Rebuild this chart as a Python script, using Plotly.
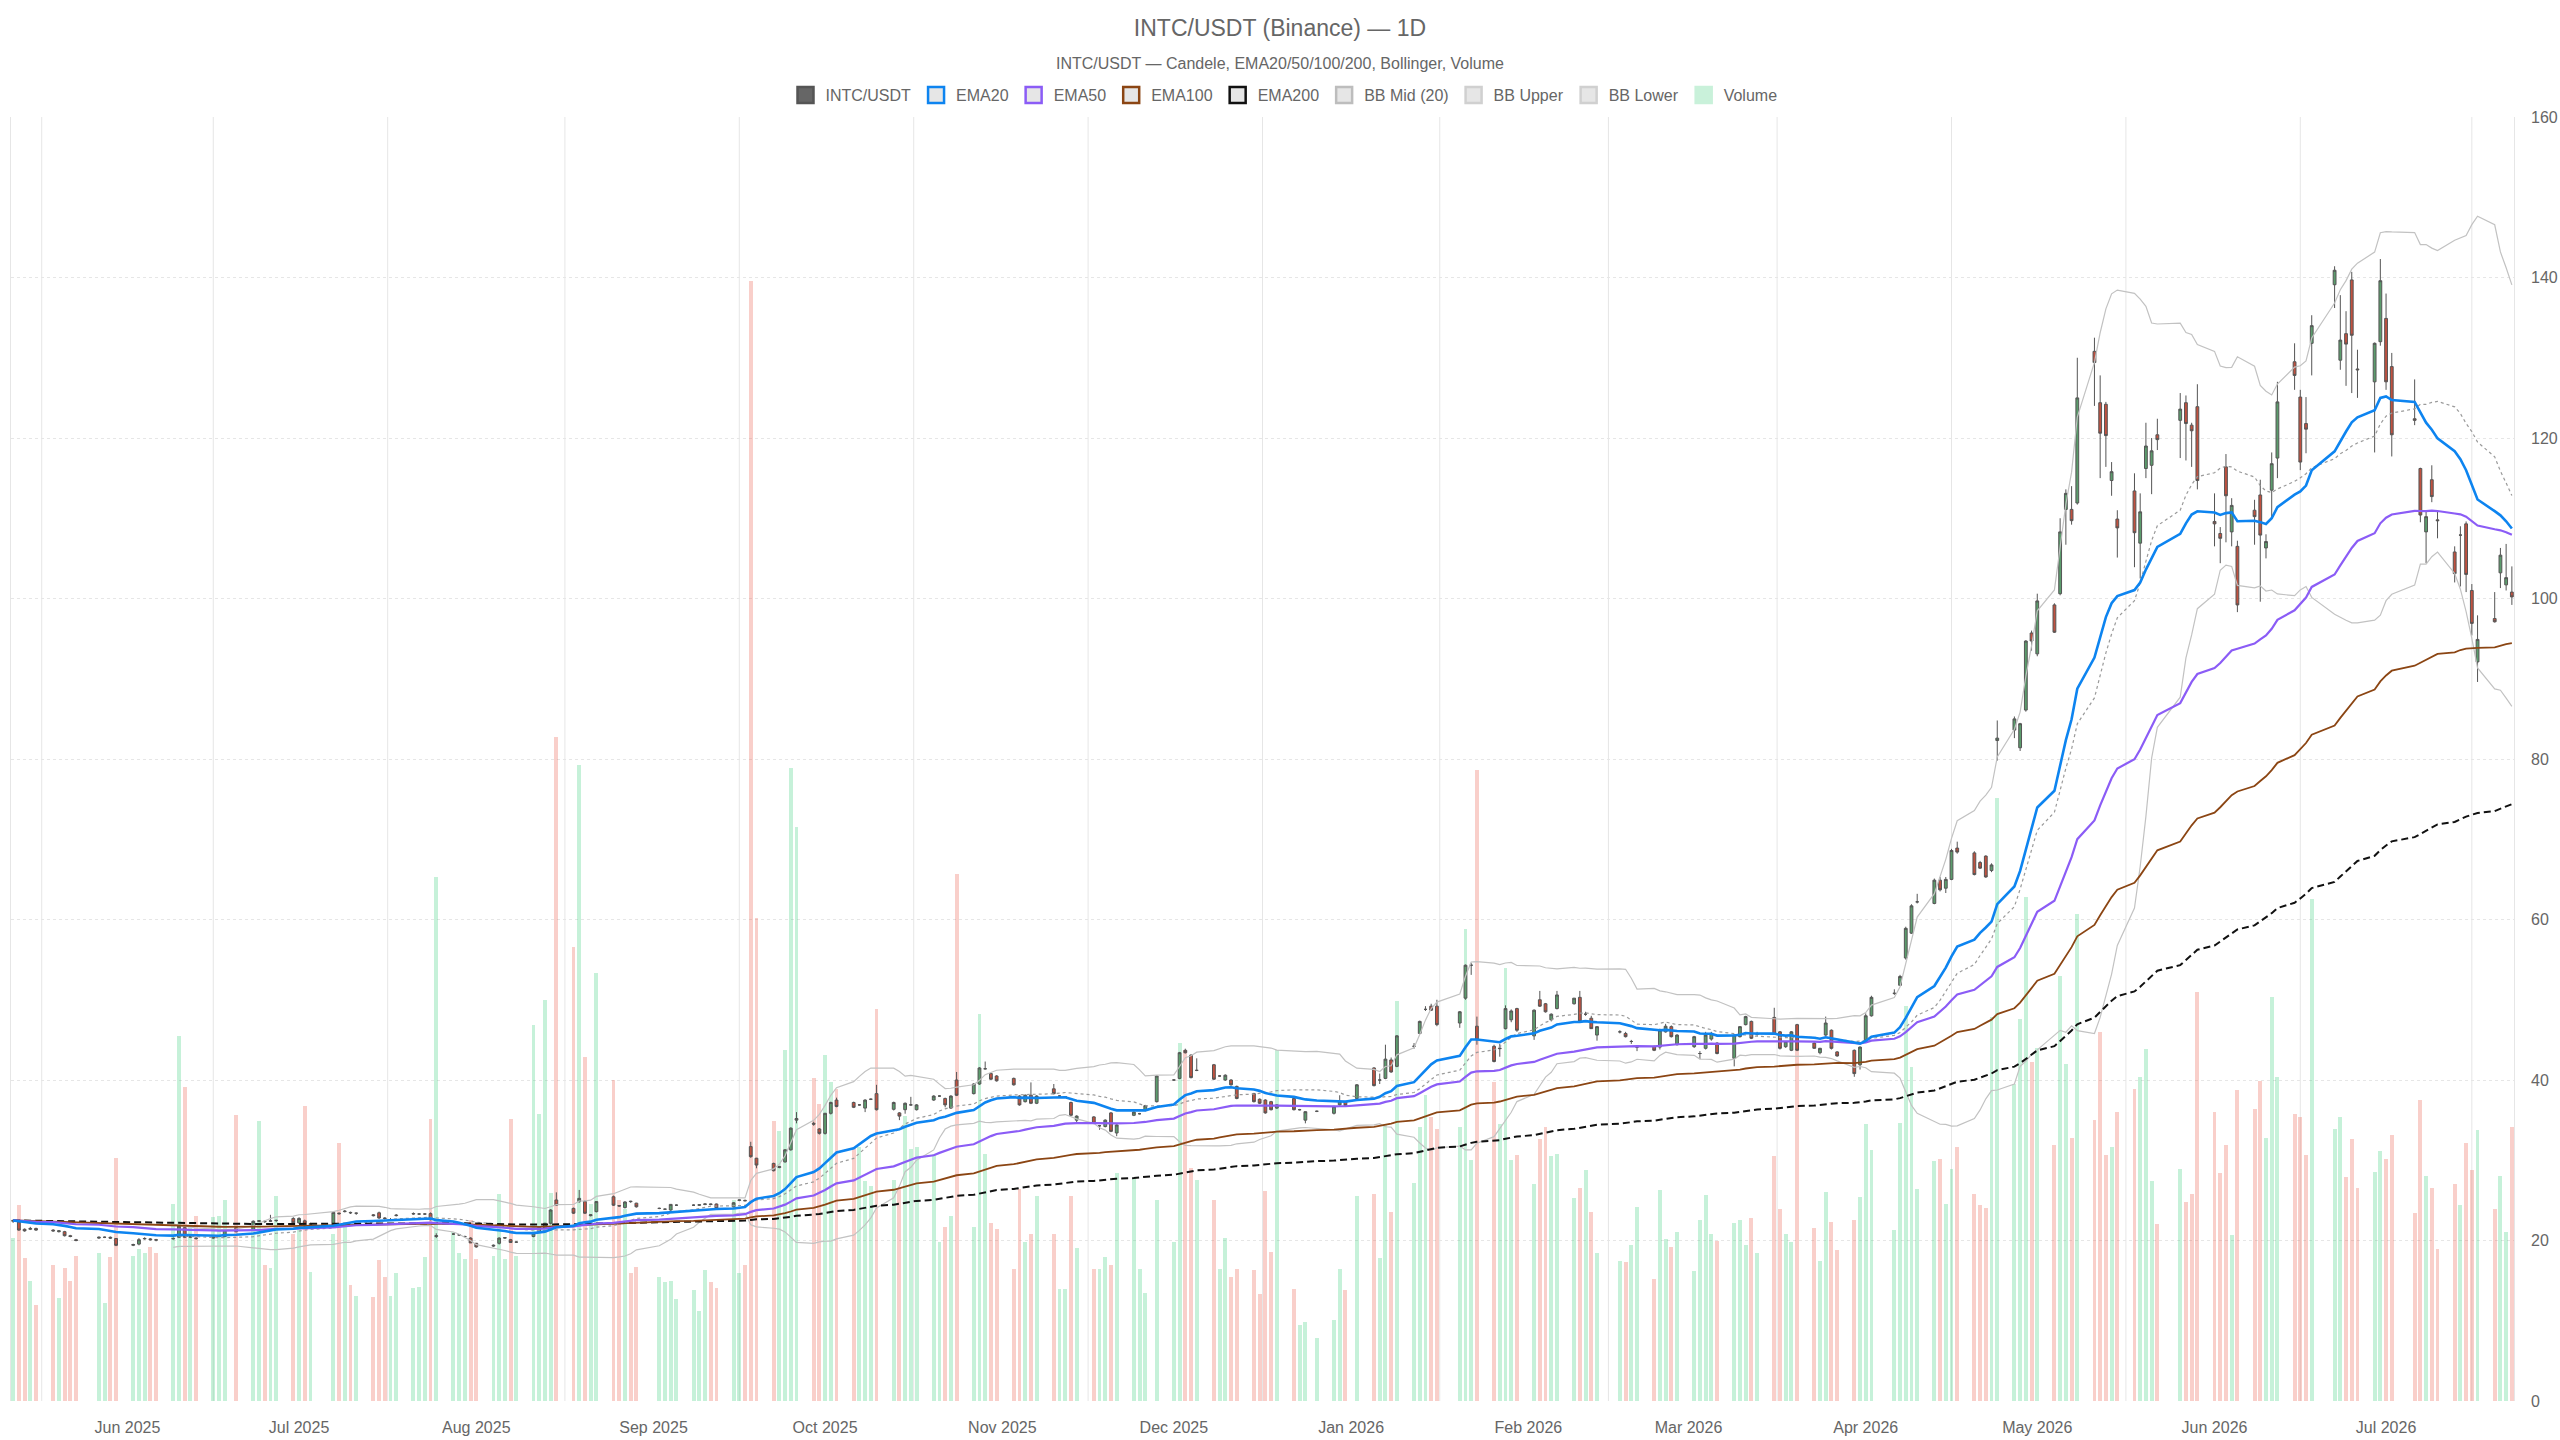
import numpy as np
import pandas as pd
import plotly.graph_objects as go

# ---------------- data ----------------
# NYSE holidays inside the range (no candle on those days)
holidays = ["2025-05-26", "2025-06-19", "2025-07-04", "2025-09-01", "2025-11-27",
            "2025-12-25", "2026-01-01", "2026-01-19", "2026-02-16", "2026-04-03",
            "2026-05-25", "2026-06-19", "2026-07-03"]
first_day = "2025-05-12"
last_day = "2026-07-23"

opens = [
    22.4, 22.3, 21.4, 21.4, 21.5,
    21.3, 21.1, 21.1, 20.6, 20.1,
    20.3, 20.4, 20.4, 20.25,
    19.4, 19.55, 20.2, 20.2, 20.1,
    20.2, 20.4, 21.6, 20.4, 20.3,
    20.3, 20.5, 20.5, 21.6,
    21.3, 22.4, 22.4, 22.4, 22.5,
    22.75, 22.2, 22.45, 22.0,
    21.9, 23.4, 23.6, 23.5, 23.4,
    23.2, 23.45, 22.8, 22.6, 23.1,
    23.3, 23.3, 23.3, 23.35, 20.5,
    20.8, 20.7, 20.5, 20.3, 19.65,
    19.3, 19.65, 20.3, 20.1, 19.8,
    20.5, 21.1, 21.5, 22.15, 25.05,
    24.0, 24.85, 24.85, 23.1, 23.6,
    25.45, 24.35, 24.1, 24.9, 24.65,
    24.0, 23.9, 23.8, 24.4,
    24.4, 24.4, 24.5, 24.55, 24.55,
    24.2, 25.0, 25.0, 31.7, 30.25,
    29.6, 29.1, 29.8, 31.3, 35.0,
    34.6, 33.9, 33.35, 35.85, 37.5,
    37.2, 36.9, 36.5, 37.6, 38.3,
    36.35, 35.9, 36.3, 36.9, 36.3,
    37.5, 38.0, 37.7, 36.5, 40.0,
    38.3, 39.5, 41.4, 40.8, 40.5,
    40.2, 38.0, 37.3, 38.1, 37.1,
    38.9, 38.0, 37.9, 37.2, 35.0,
    35.4, 34.3, 34.2, 35.9, 33.4,
    35.6, 35.8, 36.2, 37.3,
    40.0, 40.2, 43.7, 43.1, 41.2,
    41.9, 40.5, 40.0, 40.0, 39.2,
    38.3, 37.6, 37.5, 37.3, 36.5,
    37.7, 36.3, 35.0, 36.1,
    35.85, 36.9, 37.3, 37.7,
    41.5, 40.0, 40.2, 42.5, 41.7,
    44.2, 45.8, 48.8, 49.2, 49.2,
    47.1, 50.2, 54.3, 46.7,
    44.2, 43.9, 46.4, 47.5, 48.9,
    45.5, 50.0, 49.5, 47.5, 48.9,
    49.5, 50.3, 48.2, 47.7, 45.6,
    46.0, 45.8, 44.8, 44.1,
    44.15, 44.1, 46.0, 46.65, 44.4,
    44.15, 43.3, 43.95, 45.1, 44.6,
    42.7, 45.4, 46.9, 47.3, 45.7,
    47.8, 46.0, 44.15, 43.7, 46.9,
    44.6, 43.4, 45.6, 46.2, 43.5,
    43.7, 41.9, 45.0, 48.0,
    50.8, 51.8, 55.2, 58.3, 62.2,
    62.0, 64.9, 63.9, 65.0, 68.9,
    68.3, 67.1, 67.9, 66.1, 82.3,
    83.6, 81.4, 86.1, 95.7, 93.1,
    99.2, 100.6, 111.1, 111.1, 111.9,
    130.8, 124.4, 124.2, 114.7, 109.9,
    113.4, 106.9, 116.2, 116.6, 120.4,
    122.2, 124.4, 121.6, 123.9,
    109.6, 108.1, 116.4, 108.3, 106.5,
    111.0, 112.9, 106.3, 113.5, 117.5,
    129.5, 125.1, 121.8, 131.8,
    139.1, 129.7, 133.0, 139.7, 128.6,
    127.0, 132.0, 134.9, 128.9,
    122.4, 116.2, 108.3, 114.8, 109.8,
    105.8, 107.9, 109.3, 101.0, 92.1,
    97.5, 103.2, 101.7, 100.8,
]

highs = [
    22.6, 22.4, 21.5, 21.7, 21.6,
    21.4, 21.3, 21.2, 20.7, 20.2,
    20.5, 20.5, 20.5, 20.3,
    19.6, 20.3, 20.4, 20.3, 20.2,
    20.4, 21.9, 21.7, 20.6, 20.4,
    20.5, 20.6, 21.4, 21.7,
    22.5, 22.5, 22.5, 23.2, 22.6,
    22.9, 22.9, 22.6, 22.2,
    23.6, 23.5, 23.8, 23.6, 23.5,
    23.3, 23.6, 22.9, 22.8, 23.3,
    23.5, 23.4, 23.4, 23.5, 20.9,
    20.9, 20.8, 20.6, 20.4, 19.7,
    19.5, 20.4, 20.4, 20.2, 19.9,
    20.95, 21.7, 22.2, 23.9, 26.0,
    24.1, 26.3, 25.0, 23.3, 24.9,
    25.6, 24.4, 24.9, 24.95, 24.7,
    24.1, 24.0, 24.55, 24.5,
    24.5, 24.5, 24.6, 24.6, 24.6,
    24.8, 25.1, 25.1, 32.3, 30.3,
    29.7, 29.3, 31.4, 34.1, 36.0,
    34.8, 34.0, 35.9, 37.3, 37.8,
    37.3, 37.0, 37.6, 37.7, 39.4,
    37.3, 36.0, 37.2, 37.9, 37.0,
    38.1, 38.1, 37.8, 38.1, 41.0,
    39.6, 41.6, 42.3, 40.9, 40.6,
    40.3, 38.1, 38.2, 39.7, 38.1,
    39.5, 38.1, 38.0, 37.3, 35.6,
    35.5, 34.4, 35.1, 36.0, 34.5,
    36.1, 35.9, 36.9, 40.6,
    40.1, 43.5, 43.9, 43.2, 42.7,
    42.0, 40.6, 40.7, 40.1, 39.3,
    38.4, 37.7, 37.6, 37.4, 37.0,
    37.9, 36.4, 36.1, 36.2,
    36.8, 38.1, 37.4, 39.5,
    41.6, 40.8, 44.4, 42.8, 45.6,
    44.6, 47.4, 49.2, 49.5, 50.0,
    48.6, 54.4, 54.6, 47.9,
    44.4, 44.5, 49.3, 48.8, 49.0,
    48.8, 51.1, 49.6, 48.3, 51.1,
    50.2, 51.1, 48.5, 48.0, 46.7,
    46.2, 46.0, 45.0, 44.3,
    44.3, 46.4, 47.0, 46.8, 45.7,
    45.5, 43.6, 46.0, 46.0, 44.7,
    45.7, 46.7, 48.0, 47.4, 46.0,
    49.0, 46.1, 44.8, 46.1, 47.0,
    44.7, 44.0, 47.9, 46.3, 43.6,
    43.8, 44.2, 48.3, 50.5,
    51.3, 53.1, 59.1, 61.9, 63.2,
    65.1, 65.3, 65.3, 68.8, 69.7,
    68.5, 67.3, 68.0, 67.0, 84.8,
    85.3, 84.5, 94.8, 96.0, 100.6,
    99.4, 110.0, 113.6, 114.0, 130.0,
    132.5, 127.8, 124.5, 117.0, 111.0,
    115.6, 113.1, 121.9, 120.0, 122.4,
    125.6, 125.3, 121.9, 126.7,
    113.1, 108.9, 118.0, 112.5, 107.2,
    112.3, 114.8, 108.0, 118.2, 127.0,
    131.8, 126.0, 125.1, 135.3,
    141.4, 137.8, 135.8, 140.7, 131.0,
    131.9, 142.3, 138.0, 130.6,
    127.3, 116.3, 111.0, 116.6, 111.0,
    106.5, 109.0, 109.6, 101.8, 97.9,
    100.8, 106.3, 106.8, 104.0,
]

lows = [
    22.2, 21.2, 21.1, 21.3, 21.2,
    21.1, 21.0, 20.5, 20.4, 19.9,
    20.2, 20.3, 20.2, 19.3,
    19.3, 19.4, 20.1, 20.0, 19.9,
    20.1, 20.3, 20.3, 20.3, 20.1,
    20.2, 20.4, 20.4, 21.0,
    21.2, 22.3, 22.2, 22.3, 22.3,
    22.1, 22.1, 21.7, 21.9,
    21.8, 23.2, 23.5, 23.3, 23.2,
    23.0, 22.7, 22.6, 22.5, 23.0,
    23.2, 23.2, 23.2, 22.5, 20.3,
    20.7, 20.6, 20.4, 19.7, 19.1,
    19.2, 19.5, 20.2, 19.7, 19.7,
    20.4, 21.0, 21.4, 22.0, 24.3,
    23.3, 24.7, 23.3, 23.0, 23.5,
    24.3, 24.2, 24.0, 24.7, 24.1,
    23.9, 23.8, 23.7, 24.3,
    24.3, 24.3, 24.4, 24.4, 23.9,
    24.1, 24.9, 24.9, 30.3, 29.0,
    28.6, 29.0, 29.7, 31.2, 34.6,
    34.3, 33.2, 33.2, 35.7, 36.6,
    36.5, 36.8, 36.0, 37.5, 36.2,
    36.2, 35.0, 35.8, 36.8, 36.2,
    37.4, 37.9, 36.6, 36.4, 38.0,
    38.2, 39.4, 41.3, 40.0, 39.8,
    39.3, 36.8, 37.2, 37.0, 37.0,
    38.2, 37.9, 37.8, 35.5, 34.6,
    34.5, 33.8, 34.1, 33.5, 33.0,
    35.5, 35.7, 36.1, 37.2,
    39.9, 40.1, 43.3, 40.2, 41.1,
    40.0, 40.4, 39.9, 39.3, 37.6,
    37.2, 37.0, 35.8, 36.2, 36.4,
    36.2, 36.2, 34.6, 36.0,
    35.7, 36.8, 36.7, 37.6,
    39.2, 39.5, 40.1, 40.9, 41.6,
    43.9, 45.7, 48.6, 48.6, 46.7,
    46.5, 50.0, 53.1, 44.4,
    42.2, 42.9, 46.3, 47.2, 46.0,
    45.0, 49.1, 48.4, 47.3, 48.8,
    49.4, 47.2, 48.0, 46.4, 44.9,
    45.8, 45.3, 44.5, 43.6,
    43.6, 43.8, 45.9, 45.3, 44.3,
    44.0, 42.6, 43.8, 44.9, 43.2,
    41.7, 45.3, 46.8, 45.1, 45.5,
    45.6, 43.8, 44.0, 43.6, 43.6,
    43.9, 43.2, 45.5, 43.8, 42.9,
    40.4, 41.3, 44.9, 47.9,
    50.6, 51.7, 55.0, 58.2, 62.0,
    61.9, 63.5, 63.3, 64.9, 68.2,
    65.5, 66.3, 65.2, 65.9, 79.8,
    82.6, 81.0, 85.9, 93.5, 92.8,
    95.7, 100.4, 106.7, 109.2, 111.7,
    124.0, 115.0, 116.4, 112.8, 105.1,
    103.9, 102.5, 115.0, 113.0, 118.5,
    117.5, 117.2, 116.4, 113.6,
    106.5, 104.4, 107.0, 106.5, 98.3,
    106.7, 99.6, 105.0, 110.0, 115.0,
    126.0, 116.0, 118.1, 127.8,
    136.2, 128.5, 126.5, 125.6, 125.0,
    118.2, 131.5, 126.0, 117.7,
    121.6, 109.5, 104.4, 112.0, 107.5,
    102.0, 101.5, 100.8, 95.4, 89.6,
    97.0, 101.3, 101.0, 99.2,
]

closes = [
    22.5, 21.3, 21.2, 21.5, 21.3,
    21.2, 21.2, 20.6, 20.5, 20.0,
    20.4, 20.4, 20.3, 19.4,
    19.5, 20.1, 20.25, 20.1, 20.05,
    20.25, 21.8, 20.4, 20.5, 20.25,
    20.4, 20.5, 21.3, 21.1,
    22.4, 22.45, 22.35, 22.45, 22.5,
    22.2, 22.75, 21.8, 22.1,
    23.5, 23.35, 23.65, 23.45, 23.4,
    23.1, 22.8, 22.75, 22.6, 23.15,
    23.35, 23.3, 23.3, 22.6, 20.6,
    20.8, 20.7, 20.5, 19.7, 19.2,
    19.4, 20.3, 20.35, 19.75, 19.8,
    20.9, 21.65, 22.15, 23.8, 24.4,
    23.4, 25.25, 23.4, 23.2, 24.85,
    24.4, 24.3, 24.8, 24.85, 24.2,
    24.0, 23.9, 24.5, 24.4,
    24.4, 24.45, 24.55, 24.5, 24.0,
    24.7, 25.05, 24.95, 30.45, 29.4,
    28.7, 29.2, 31.3, 34.0, 35.2,
    34.5, 33.35, 35.85, 37.2, 36.7,
    36.6, 36.9, 37.5, 37.6, 36.3,
    37.2, 35.5, 37.1, 36.9, 36.9,
    38.0, 38.0, 36.9, 38.0, 38.1,
    39.5, 41.5, 41.4, 40.1, 39.9,
    39.4, 36.9, 38.1, 37.1, 38.0,
    38.3, 38.0, 37.9, 35.6, 35.5,
    34.6, 34.3, 35.0, 33.6, 34.4,
    36.0, 35.8, 36.8, 40.5,
    40.0, 43.4, 43.4, 40.3, 41.2,
    40.1, 40.5, 40.6, 39.4, 37.7,
    37.3, 37.1, 35.9, 36.3, 36.9,
    36.3, 36.3, 36.05, 36.1,
    36.7, 37.3, 36.8, 39.4,
    39.3, 40.0, 42.6, 41.0, 45.5,
    44.2, 47.3, 48.8, 48.7, 46.9,
    48.5, 54.3, 54.3, 45.0,
    42.3, 43.95, 48.9, 48.6, 46.2,
    48.7, 49.2, 48.5, 48.2, 50.6,
    50.2, 47.3, 48.2, 46.4, 46.65,
    46.0, 45.4, 44.8, 44.1,
    43.7, 46.2, 46.7, 45.4, 45.6,
    45.4, 43.3, 45.6, 45.8, 43.3,
    45.6, 46.65, 47.9, 45.2, 45.75,
    45.7, 43.95, 44.8, 46.0, 43.7,
    43.95, 43.95, 47.1, 43.95, 43.0,
    40.8, 44.1, 48.0, 50.3,
    50.8, 52.9, 58.9, 61.7, 62.2,
    64.9, 63.7, 65.0, 68.6, 68.4,
    65.6, 66.4, 65.3, 66.8, 82.6,
    85.0, 84.4, 94.7, 94.7, 99.7,
    95.8, 108.3, 113.1, 109.7, 125.0,
    129.4, 120.6, 120.3, 115.8, 108.8,
    108.2, 110.8, 119.0, 118.4, 119.8,
    123.6, 121.8, 120.9, 114.7,
    109.3, 107.5, 112.8, 111.6, 99.2,
    110.2, 107.9, 107.1, 116.8, 124.5,
    127.8, 117.0, 121.1, 134.0,
    140.9, 132.2, 131.7, 132.8, 128.5,
    131.8, 139.6, 127.0, 120.4,
    122.2, 110.4, 110.2, 112.7, 109.7,
    103.1, 107.9, 103.0, 96.9, 94.9,
    97.1, 105.4, 102.6, 100.2,
]

# volume, in the same units as the price scale (bar heights)
volumes = [
    20.3, 24.4, 17.8, 14.9, 12.0,
    17.0, 12.8, 16.6, 15.0, 18.1,
    18.4, 12.2, 17.9, 30.3,
    18.1, 19.0, 18.5, 19.2, 18.5,
    24.6, 45.5, 39.1, 21.7, 23.1,
    22.9, 23.1, 25.0, 35.7,
    21.7, 34.9, 17.0, 16.6, 25.5,
    20.8, 21.7, 36.8, 16.1,
    20.8, 32.1, 21.7, 14.5, 13.1,
    12.9, 17.6, 15.5, 13.1, 16.0,
    14.1, 14.2, 18.0, 35.2, 65.3,
    21.0, 18.4, 17.7, 22.5, 17.7,
    18.1, 25.8, 17.7, 35.2, 18.1,
    46.8, 35.8, 50.0, 25.9, 82.7,
    56.6, 79.3, 42.9, 24.6, 53.3,
    40.0, 25.0, 23.9, 16.0, 16.7,
    15.5, 14.8, 15.0, 12.7,
    13.8, 11.2, 16.3, 14.8, 14.1,
    25.0, 16.0, 17.0, 139.6, 60.2,
    34.9, 33.6, 43.8, 78.9, 71.5,
    40.3, 37.0, 43.1, 39.8, 38.9,
    31.7, 31.7, 27.4, 26.8, 48.9,
    27.6, 26.5, 35.5, 31.4, 31.7,
    30.8, 19.8, 21.7, 23.1, 65.7,
    21.7, 48.2, 30.8, 22.2, 21.4,
    16.5, 26.4, 19.8, 20.8, 25.5,
    20.8, 14.0, 14.0, 25.5, 19.1,
    16.5, 16.5, 18.0, 17.0, 28.4,
    27.8, 16.5, 13.5, 25.0,
    19.8, 44.6, 43.8, 29.0, 27.6,
    25.0, 16.5, 20.3, 15.5, 16.5,
    16.3, 13.3, 26.2, 18.6, 43.8,
    13.9, 9.5, 9.9, 7.8,
    10.1, 16.5, 13.8, 25.5,
    25.8, 17.8, 34.5, 23.6, 49.8,
    27.2, 34.1, 38.1, 35.4, 33.9,
    34.1, 58.8, 30.0, 78.6,
    39.8, 34.5, 53.9, 30.0, 30.7,
    27.1, 32.6, 34.2, 30.5, 30.8,
    25.3, 26.6, 28.8, 23.6, 18.5,
    17.5, 17.3, 19.4, 24.2,
    15.2, 26.3, 20.2, 19.2, 21.1,
    16.2, 22.5, 25.7, 20.8, 19.9,
    22.2, 22.6, 19.4, 22.8, 18.4,
    30.5, 23.9, 20.8, 19.8, 43.9,
    21.6, 17.5, 26.0, 22.3, 18.8,
    22.6, 25.4, 34.5, 31.3,
    21.3, 34.6, 49.2, 41.6, 26.4,
    29.9, 30.1, 24.5, 28.9, 31.7,
    25.8, 24.4, 24.1, 47.8, 75.1,
    39.5, 47.6, 62.8, 42.3, 44.0,
    31.9, 52.9, 42.0, 32.8, 60.7,
    35.0, 46.0, 30.7, 31.6, 36.0,
    38.9, 40.4, 43.9, 27.4, 22.1,
    28.9, 24.8, 25.8, 51.0,
    36.0, 28.4, 31.9, 20.7, 38.8,
    36.4, 39.9, 32.8, 50.3, 40.4,
    35.8, 35.4, 30.7, 62.5,
    33.9, 35.4, 27.9, 32.6, 26.6,
    28.5, 31.1, 30.1, 33.2,
    23.4, 37.5, 28.1, 26.6, 18.9,
    27.0, 24.4, 32.2, 28.8, 33.8,
    23.9, 28.1, 21.0, 34.2,
]

y_ticks = [0, 20, 40, 60, 80, 100, 120, 140, 160]

# ---------------- derived series ----------------
dates = pd.bdate_range(first_day, last_day)
dates = dates[~dates.isin(pd.to_datetime(holidays))]
n = len(dates)
assert len(opens) == n and len(highs) == n and len(lows) == n and len(closes) == n and len(volumes) == n, \
    (n, len(opens), len(highs), len(lows), len(closes), len(volumes))


def ema(values, period):
    a = 2.0 / (period + 1)
    out, prev = [], values[0]
    for v in values:
        prev = a * v + (1 - a) * prev
        out.append(prev)
    return out


cs = pd.Series(closes)
bb_mid = cs.rolling(20).mean()
bb_std = cs.rolling(20).std(ddof=0)
bb_up = bb_mid + 2 * bb_std
bb_lo = bb_mid - 2 * bb_std

FONT = "Liberation Sans, Arial, Helvetica, sans-serif"
TXT = "#666666"
GRID = "#e6e6e6"

C_EMA20 = "#0d84f0"
C_EMA50 = "#8b5cf6"
C_EMA100 = "#8b4513"
C_EMA200 = "#111111"
C_BBMID = "#9a9a9a"
C_BB = "#c2c2c2"
VOL_UP = "rgba(46,204,113,0.27)"
VOL_DN = "rgba(231,76,60,0.27)"

vol_colors = [VOL_UP if c >= o else VOL_DN for o, c in zip(opens, closes)]

fig = go.Figure()

# volume (bottom layer, hidden left axis with the same 0-160 scale)
fig.add_trace(go.Bar(x=dates, y=volumes, marker=dict(color=vol_colors, line=dict(width=0)),
                     width=0.68 * 86400000, yaxis="y", name="Volume",
                     legendgroup="vol", showlegend=False))

fig.add_trace(go.Candlestick(
    x=dates, open=opens, high=highs, low=lows, close=closes, yaxis="y2",
    name="INTC/USDT", legendgroup="px", showlegend=False,
    increasing=dict(fillcolor="#5b9c6c", line=dict(color="#555555", width=1)),
    decreasing=dict(fillcolor="#c1513f", line=dict(color="#555555", width=1)),
    whiskerwidth=0))

fig.add_trace(go.Scatter(x=dates, y=bb_up, mode="lines", yaxis="y2", name="BB Upper",
                         legendgroup="bbu", showlegend=False,
                         line=dict(color=C_BB, width=1.2)))
fig.add_trace(go.Scatter(x=dates, y=bb_lo, mode="lines", yaxis="y2", name="BB Lower",
                         legendgroup="bbl", showlegend=False,
                         line=dict(color=C_BB, width=1.2)))
fig.add_trace(go.Scatter(x=dates, y=bb_mid, mode="lines", yaxis="y2", name="BB Mid (20)",
                         legendgroup="bbm", showlegend=False,
                         line=dict(color=C_BBMID, width=1.2, dash="3px,3px")))
fig.add_trace(go.Scatter(x=dates, y=ema(closes, 200), mode="lines", yaxis="y2", name="EMA200",
                         legendgroup="e200", showlegend=False,
                         line=dict(color=C_EMA200, width=2, dash="7px,4px")))
fig.add_trace(go.Scatter(x=dates, y=ema(closes, 100), mode="lines", yaxis="y2", name="EMA100",
                         legendgroup="e100", showlegend=False,
                         line=dict(color=C_EMA100, width=1.8)))
fig.add_trace(go.Scatter(x=dates, y=ema(closes, 50), mode="lines", yaxis="y2", name="EMA50",
                         legendgroup="e50", showlegend=False,
                         line=dict(color=C_EMA50, width=2.2)))
fig.add_trace(go.Scatter(x=dates, y=ema(closes, 20), mode="lines", yaxis="y2", name="EMA20",
                         legendgroup="e20", showlegend=False,
                         line=dict(color=C_EMA20, width=2.6)))

# legend entries drawn as boxes (like the reference)
legend_items = [
    ("INTC/USDT", "px", "#666666", "#555555"),
    ("EMA20", "e20", "#e6e6e6", C_EMA20),
    ("EMA50", "e50", "#e6e6e6", C_EMA50),
    ("EMA100", "e100", "#e6e6e6", C_EMA100),
    ("EMA200", "e200", "#e6e6e6", C_EMA200),
    ("BB Mid (20)", "bbm", "#e6e6e6", "#bdbdbd"),
    ("BB Upper", "bbu", "#e6e6e6", "#d0d0d0"),
    ("BB Lower", "bbl", "#e6e6e6", "#d0d0d0"),
    ("Volume", "vol", "#c9f1da", "#c9f1da"),
]
for name, grp, fill, border in legend_items:
    fig.add_trace(go.Scatter(x=[None], y=[None], mode="markers", yaxis="y2", name=name,
                             legendgroup=grp, showlegend=True,
                             marker=dict(symbol="square", size=16, color=fill,
                                         line=dict(color=border, width=2.5))))

# vertical grid lines halfway between the monthly labels (offset grid)
month_starts = pd.date_range("2025-06-01", "2026-07-01", freq="MS")
grid_x = [month_starts[0] - (month_starts[1] - month_starts[0]) / 2]
grid_x += [month_starts[i] + (month_starts[i + 1] - month_starts[i]) / 2
           for i in range(len(month_starts) - 1)]
grid_x += [month_starts[-1] + (month_starts[-1] - month_starts[-2]) / 2]
shapes = [dict(type="line", xref="x", yref="paper", x0=g, x1=g, y0=0, y1=1,
               line=dict(color=GRID, width=1), layer="below") for g in grid_x]

W, H = 2560, 1440
TOP, BOTTOM, LEFT, RIGHT = 117, 39, 11, 46
plot_h = H - TOP - BOTTOM
plot_w = W - LEFT - RIGHT
canvas_center = (W / 2 - LEFT) / plot_w   # header items are centred on the canvas

fig.update_layout(
    width=W, height=H,
    margin=dict(l=LEFT, r=RIGHT, t=TOP, b=BOTTOM, pad=0, autoexpand=False),
    paper_bgcolor="white", plot_bgcolor="white",
    font=dict(family=FONT, color=TXT, size=16),
    title=dict(text="INTC/USDT (Binance) — 1D", x=0.5, xanchor="center",
               y=1 - 28 / H, yanchor="middle", yref="container", automargin=False,
               font=dict(size=23, color=TXT, family=FONT)),
    annotations=[dict(text="INTC/USDT — Candele, EMA20/50/100/200, Bollinger, Volume",
                      x=canvas_center, xref="paper", xanchor="center",
                      y=1 + (TOP - 64) / plot_h, yref="paper", yanchor="middle",
                      showarrow=False, font=dict(size=16, color=TXT, family=FONT))],
    legend=dict(orientation="h", x=canvas_center + 4 / plot_w, xanchor="center",
                y=1 + (TOP - 95) / plot_h, yanchor="middle",
                font=dict(size=16, color=TXT, family=FONT),
                bgcolor="rgba(0,0,0,0)", itemclick="toggle"),
    showlegend=True,
    shapes=shapes,
    bargap=0,
    xaxis=dict(type="date", range=["2025-05-11 15:00", "2026-07-23 09:00"],
               tickformat="%b %Y", dtick="M1", tick0="2025-06-01",
               showgrid=False, zeroline=False, showline=False, ticks="",
               tickfont=dict(size=16, color=TXT), ticklabelstandoff=15,
               automargin=False, rangeslider=dict(visible=False)),
    yaxis=dict(range=[0, 160], tickvals=y_ticks, showgrid=True, gridcolor=GRID,
               griddash="dot", gridwidth=1, showticklabels=False, zeroline=False,
               automargin=False,
               showline=True, mirror=True, linecolor=GRID, linewidth=1, fixedrange=True),
    yaxis2=dict(range=[0, 160], tickvals=y_ticks, overlaying="y", side="right",
                showgrid=False, zeroline=False, showline=False, ticks="",
                automargin=False,
                tickfont=dict(size=16, color=TXT), ticklabelstandoff=16),
    hovermode="x",
)

fig.write_html("out.html")
